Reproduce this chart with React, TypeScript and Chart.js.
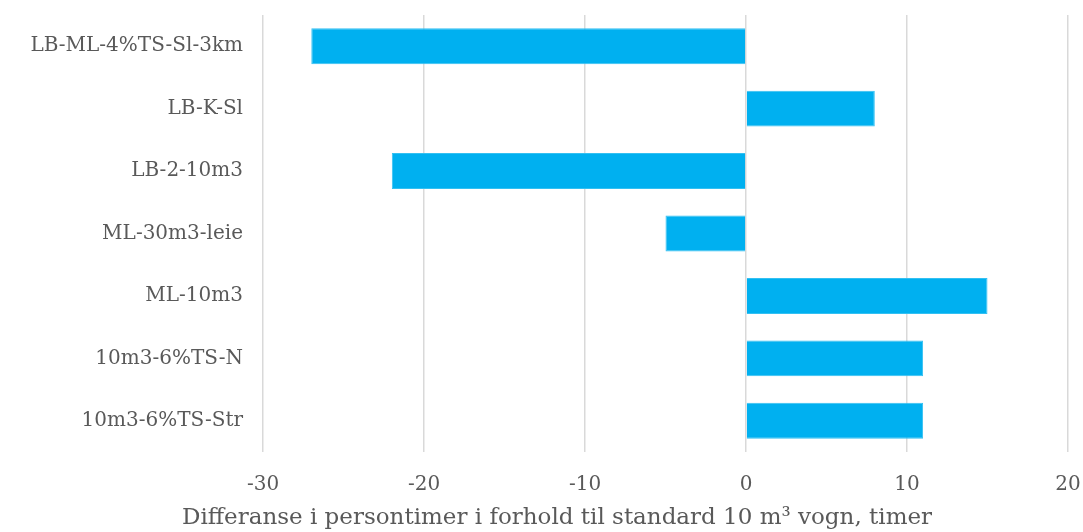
import React, { useEffect, useRef } from "react";
import { Chart, registerables } from "chart.js";

Chart.register(...registerables);

const categories = [
  "LB-ML-4%TS-Sl-3km",
  "LB-K-Sl",
  "LB-2-10m3",
  "ML-30m3-leie",
  "ML-10m3",
  "10m3-6%TS-N",
  "10m3-6%TS-Str",
];
const values = [-27, 8, -22, -5, 15, 11, 11];
const xTitle = "Differanse i persontimer i forhold til standard 10 m³ vogn, timer";

const FONT = "'DejaVu Serif', 'Liberation Serif', serif";

const titlePlugin = {
  id: "bottomTitle",
  afterDraw(chart: any) {
    const ctx = chart.ctx;
    ctx.save();
    ctx.font = `23px ${FONT}`;
    ctx.fillStyle = "#595959";
    ctx.textAlign = "center";
    ctx.textBaseline = "middle";
    ctx.fillText(xTitle, 557, 518);
    ctx.restore();
  },
};

export default function App() {
  const ref = useRef<HTMLCanvasElement | null>(null);
  useEffect(() => {
    if (!ref.current) return;
    const chart = new Chart(ref.current, {
      type: "bar",
      data: {
        labels: categories,
        datasets: [
          {
            data: values,
            backgroundColor: "#00B0F0",
            borderColor: "#33C0F2",
            borderWidth: 1,
            categoryPercentage: 1,
            barPercentage: 0.575,
          },
        ],
      },
      options: {
        indexAxis: "y",
        animation: false,
        responsive: true,
        maintainAspectRatio: false,
        layout: { padding: { top: 0, right: 0, left: 0, bottom: 0 } },
        plugins: { legend: { display: false }, tooltip: { enabled: false } },
        scales: {
          x: {
            min: -30,
            max: 20,
            ticks: {
              stepSize: 10,
              color: "#595959",
              font: { family: FONT, size: 20 },
              padding: 21,
            },
            grid: { color: "#D9D9D9", lineWidth: 1.5, drawTicks: false },
            border: { display: false },
            afterFit: (scale: any) => {
              scale.height = 80;
              scale.paddingLeft = 0;
              scale.paddingRight = 15;
            },
          },
          y: {
            ticks: {
              color: "#595959",
              font: { family: FONT, size: 20 },
              padding: 20,
            },
            grid: { display: false, drawTicks: false },
            border: { display: false },
            afterFit: (scale: any) => {
              scale.width = 263;
              scale.paddingTop = 15;
              scale.paddingBottom = 0;
            },
          },
        },
      },
      plugins: [titlePlugin],
    });
    return () => chart.destroy();
  }, []);
  return (
    <div style={{ position: "fixed", left: 0, top: 0, width: 1083, height: 532, background: "#fff" }}>
      <canvas ref={ref} />
    </div>
  );
}
